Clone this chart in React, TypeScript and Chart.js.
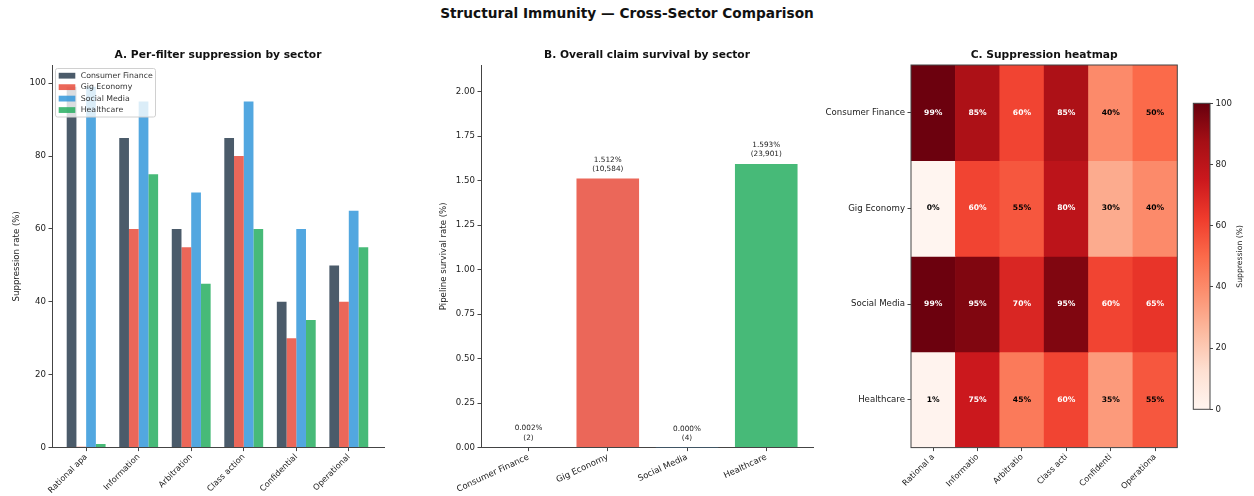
import { useEffect, useRef } from "react";
import { Chart, registerables } from "chart.js";

Chart.register(...registerables);

const FONT = "'DejaVu Sans', 'Liberation Sans', sans-serif";
Chart.defaults.font.family = FONT;

// ---- data ----
const sectors = ["Consumer Finance", "Gig Economy", "Social Media", "Healthcare"];
const filterTicks = ["Rational apa", "Information", "Arbitration", "Class action", "Confidential", "Operational"];
const filterTicksShort = ["Rational a", "Informatio", "Arbitratio", "Class acti", "Confidenti", "Operationa"];

// suppression rate (%) per filter, one list per sector
const consumerFinance = [99, 85, 60, 85, 40, 50];
const gigEconomy = [0.2, 60, 55, 80, 30, 40];
const socialMedia = [99, 95, 70, 95, 60, 65];
const healthcare = [1, 75, 45, 60, 35, 55];
const suppression = [consumerFinance, gigEconomy, socialMedia, healthcare];

// overall pipeline survival
const survivalRate = [0.002, 1.512, 0.0003, 1.593];
const survivingClaims = [2, 10584, 4, 23901];

const sectorColors = ["#2c3e50", "#e74c3c", "#3498db", "#27ae60"];
const suppressionTicks = [0, 20, 40, 60, 80, 100];
const survivalTicks = [0, 0.25, 0.5, 0.75, 1.0, 1.25, 1.5, 1.75, 2.0];
const colorbarTicks = [0, 20, 40, 60, 80, 100];

// ---- helpers ----
const TEXT = "#222";
const SPINE = "#444";

function hexToRgb(h: string) {
  const n = parseInt(h.slice(1), 16);
  return [(n >> 16) & 255, (n >> 8) & 255, n & 255];
}
function withAlpha(h: string, a: number) {
  const [r, g, b] = hexToRgb(h);
  return `rgba(${r},${g},${b},${a})`;
}

// matplotlib "Reds" colormap (ColorBrewer 9-class anchors)
const REDS = ["#fff5f0", "#fee0d2", "#fcbba1", "#fc9272", "#fb6a4a", "#ef3b2c", "#cb181d", "#a50f15", "#67000d"];
function reds(t: number) {
  const c = Math.max(0, Math.min(1, t));
  const p = c * 8;
  const i = Math.min(7, Math.floor(p));
  const f = p - i;
  const a = hexToRgb(REDS[i]);
  const b = hexToRgb(REDS[i + 1]);
  const m = a.map((v, k) => Math.round(v + (b[k] - v) * f));
  return `rgb(${m[0]},${m[1]},${m[2]})`;
}

const TITLE_SIZE = 10.7;
const titleOpts = (text: string) => ({
  display: true,
  text,
  fullSize: false,
  color: "#111",
  font: { size: TITLE_SIZE, weight: "bold" as const, family: FONT },
  padding: { top: 55.6 - TITLE_SIZE * 0.6, bottom: 65 - 55.6 - TITLE_SIZE * 0.6 },
});

// legend drawn inside the plotting area (upper left)
const insideLegend = {
  id: "insideLegend",
  afterDatasetsDraw(chart: any) {
    const { ctx, chartArea } = chart;
    const x0 = chartArea.left + 3.5;
    const y0 = chartArea.top + 3.5;
    const w = 100;
    const h = 48.5;
    ctx.save();
    ctx.beginPath();
    ctx.roundRect(x0, y0, w, h, 2);
    ctx.fillStyle = "rgba(255,255,255,0.8)";
    ctx.fill();
    ctx.strokeStyle = "#d0d0d0";
    ctx.lineWidth = 1;
    ctx.stroke();
    ctx.font = `7.8px ${FONT}`;
    ctx.textBaseline = "middle";
    ctx.textAlign = "left";
    chart.data.datasets.forEach((ds: any, i: number) => {
      const cy = y0 + 7.2 + i * 11.45;
      ctx.fillStyle = ds.backgroundColor;
      ctx.fillRect(x0 + 3.2, cy - 2.9, 16.6, 5.8);
      ctx.fillStyle = "#333";
      ctx.fillText(ds.label, x0 + 25.2, cy);
    });
    ctx.restore();
  },
};

// value labels above the survival bars
const survivalLabels = {
  id: "survivalLabels",
  afterDatasetsDraw(chart: any) {
    const { ctx } = chart;
    const meta = chart.getDatasetMeta(0);
    ctx.save();
    ctx.font = `7.3px ${FONT}`;
    ctx.fillStyle = TEXT;
    ctx.textAlign = "center";
    ctx.textBaseline = "middle";
    meta.data.forEach((bar: any, i: number) => {
      ctx.fillText(survivalRate[i].toFixed(3) + "%", bar.x, bar.y - 18.8);
      ctx.fillText("(" + survivingClaims[i].toLocaleString("en-US") + ")", bar.x, bar.y - 9.6);
    });
    ctx.restore();
  },
};

// percentage text in each heatmap cell + outer frame
const heatAnnotations = {
  id: "heatAnnotations",
  afterDatasetsDraw(chart: any) {
    const { ctx, chartArea, scales } = chart;
    ctx.save();
    ctx.font = `bold 7.6px ${FONT}`;
    ctx.textAlign = "center";
    ctx.textBaseline = "middle";
    suppression.forEach((row, r) => {
      row.forEach((v, c) => {
        const x = scales.x.getPixelForValue(c);
        const y = scales.y.getPixelForValue(r + 0.5);
        ctx.fillStyle = v > 55 ? "#ffffff" : "#000000";
        ctx.fillText(`${Math.round(v)}%`, x, y);
      });
    });
    ctx.strokeStyle = SPINE;
    ctx.lineWidth = 1;
    ctx.strokeRect(chartArea.left, chartArea.top, chartArea.right - chartArea.left, chartArea.bottom - chartArea.top);
    ctx.restore();
  },
};

// colorbar frame and rotated label
const colorbarDecor = {
  id: "colorbarDecor",
  afterDatasetsDraw(chart: any) {
    const { ctx, chartArea } = chart;
    ctx.save();
    ctx.strokeStyle = SPINE;
    ctx.lineWidth = 1;
    ctx.strokeRect(chartArea.left, chartArea.top, chartArea.right - chartArea.left, chartArea.bottom - chartArea.top);
    ctx.translate(60, (chartArea.top + chartArea.bottom) / 2);
    ctx.rotate(-Math.PI / 2);
    ctx.font = `7.7px ${FONT}`;
    ctx.fillStyle = TEXT;
    ctx.textAlign = "center";
    ctx.textBaseline = "middle";
    ctx.fillText("Suppression (%)", 0, 0);
    ctx.restore();
  },
};

const tickFont = { size: 8.6, family: FONT };
const rotFont = { size: 8.2, family: FONT };
const axisGrid = { drawOnChartArea: false, tickLength: 3.5, color: SPINE, offset: false };
const axisBorder = { color: SPINE, width: 1 };

export default function App() {
  const aRef = useRef<HTMLCanvasElement>(null);
  const bRef = useRef<HTMLCanvasElement>(null);
  const cRef = useRef<HTMLCanvasElement>(null);
  const dRef = useRef<HTMLCanvasElement>(null);

  useEffect(() => {
    const charts: Chart[] = [];

    // A. grouped bars per filter
    charts.push(
      new Chart(aRef.current!, {
        type: "bar",
        data: {
          datasets: sectors.map((s, k) => ({
            label: s,
            data: suppression[k].map((v, i) => ({ x: i, y: v })),
            backgroundColor: withAlpha(sectorColors[k], 0.85),
            borderWidth: 0,
            categoryPercentage: 0.74,
            barPercentage: 1,
          })),
        },
        options: {
          responsive: false,
          animation: false,
          layout: { padding: { left: 0, right: 16, top: 0, bottom: 0 } },
          plugins: { legend: { display: false }, tooltip: { enabled: false }, title: titleOpts("A. Per-filter suppression by sector") },
          scales: {
            x: {
              type: "linear",
              min: -0.65,
              max: 5.67,
              offset: false,
              afterBuildTicks: (s: any) => {
                s.ticks = filterTicks.map((_, i) => ({ value: i }));
              },
              afterFit: (s: any) => {
                s.height = 48.4;
              },
              ticks: {
                callback: (v: any) => filterTicks[Math.round(Number(v))] ?? "",
                minRotation: 45,
                maxRotation: 45,
                autoSkip: false,
                padding: 1,
                color: TEXT,
                font: rotFont,
              },
              grid: axisGrid,
              border: axisBorder,
            },
            y: {
              min: 0,
              max: 105,
              afterBuildTicks: (s: any) => {
                s.ticks = suppressionTicks.map((v) => ({ value: v }));
              },
              afterFit: (s: any) => {
                s.width = 52;
              },
              ticks: { color: TEXT, font: tickFont, padding: 2.5 },
              grid: axisGrid,
              border: axisBorder,
              title: { display: true, text: "Suppression rate (%)", color: TEXT, font: tickFont, padding: { top: 12, bottom: 0 } },
            },
          },
        },
        plugins: [insideLegend],
      } as any)
    );

    // B. overall survival per sector
    charts.push(
      new Chart(bRef.current!, {
        type: "bar",
        data: {
          datasets: [
            {
              label: "Survival",
              data: survivalRate.map((v, i) => ({ x: i, y: v })),
              backgroundColor: sectorColors.map((c) => withAlpha(c, 0.85)),
              borderWidth: 0,
              categoryPercentage: 0.79,
              barPercentage: 1,
            },
          ],
        },
        options: {
          responsive: false,
          animation: false,
          layout: { padding: { left: 0, right: 17, top: 0, bottom: 0 } },
          plugins: { legend: { display: false }, tooltip: { enabled: false }, title: titleOpts("B. Overall claim survival by sector") },
          scales: {
            x: {
              type: "linear",
              min: -0.6,
              max: 3.59,
              offset: false,
              afterBuildTicks: (s: any) => {
                s.ticks = sectors.map((_, i) => ({ value: i }));
              },
              afterFit: (s: any) => {
                s.height = 48.4;
              },
              ticks: {
                callback: (v: any) => sectors[Math.round(Number(v))] ?? "",
                minRotation: 25,
                maxRotation: 25,
                autoSkip: false,
                padding: 1,
                color: TEXT,
                font: { size: 8.5, family: FONT },
              },
              grid: axisGrid,
              border: axisBorder,
            },
            y: {
              min: 0,
              max: 2.15,
              afterBuildTicks: (s: any) => {
                s.ticks = survivalTicks.map((v) => ({ value: v }));
              },
              afterFit: (s: any) => {
                s.width = 61;
              },
              ticks: { color: TEXT, font: tickFont, padding: 2.5, callback: (v: any) => Number(v).toFixed(2) },
              grid: axisGrid,
              border: axisBorder,
              title: { display: true, text: "Pipeline survival rate (%)", color: TEXT, font: tickFont, padding: { top: 19, bottom: 0 } },
            },
          },
        },
        plugins: [survivalLabels],
      } as any)
    );

    // C. heatmap: one stacked row of unit cells per sector, coloured by suppression
    charts.push(
      new Chart(cRef.current!, {
        type: "bar",
        data: {
          labels: filterTicksShort,
          datasets: sectors.map((s, r) => ({
            label: s,
            data: filterTicksShort.map(() => 1),
            backgroundColor: suppression[r].map((v) => reds(v / 100)),
            borderWidth: 0,
            categoryPercentage: 1,
            barPercentage: 1,
          })),
        },
        options: {
          responsive: false,
          animation: false,
          layout: { padding: { left: 0, right: 2.7, top: 0, bottom: 0 } },
          plugins: { legend: { display: false }, tooltip: { enabled: false }, title: titleOpts("C. Suppression heatmap") },
          scales: {
            x: {
              stacked: true,
              afterFit: (s: any) => {
                s.height = 48.4;
              },
              ticks: { minRotation: 45, maxRotation: 45, autoSkip: false, padding: 1, color: TEXT, font: rotFont },
              grid: axisGrid,
              border: { display: false },
            },
            y: {
              stacked: true,
              min: 0,
              max: 4,
              reverse: true,
              afterBuildTicks: (s: any) => {
                s.ticks = sectors.map((_, i) => ({ value: i + 0.5 }));
              },
              afterFit: (s: any) => {
                s.width = 91;
              },
              ticks: { callback: (v: any) => sectors[Math.floor(Number(v))] ?? "", color: TEXT, font: tickFont, padding: 2.5 },
              grid: axisGrid,
              border: { display: false },
            },
          },
        },
        plugins: [heatAnnotations],
      } as any)
    );

    // colorbar for the heatmap
    charts.push(
      new Chart(dRef.current!, {
        type: "bar",
        data: {
          labels: ["scale"],
          datasets: [
            {
              data: [[0, 100]],
              backgroundColor: (c: any) => {
                const chart = c.chart;
                const y = chart.scales?.y;
                if (!y || !chart.chartArea) return reds(0.5);
                const g = chart.ctx.createLinearGradient(0, y.getPixelForValue(0), 0, y.getPixelForValue(100));
                REDS.forEach((col, i) => g.addColorStop(i / (REDS.length - 1), col));
                return g;
              },
              borderWidth: 0,
              categoryPercentage: 1,
              barPercentage: 1,
            },
          ],
        },
        options: {
          responsive: false,
          animation: false,
          layout: { padding: { left: 13.3, right: 0, top: 103.3, bottom: 86.7 } },
          plugins: { legend: { display: false }, tooltip: { enabled: false }, title: { display: false } },
          scales: {
            x: { display: false },
            y: {
              position: "right",
              min: 0,
              max: 100,
              afterBuildTicks: (s: any) => {
                s.ticks = colorbarTicks.map((v) => ({ value: v }));
              },
              afterFit: (s: any) => {
                s.width = 44;
              },
              ticks: { color: TEXT, font: tickFont, padding: 2.5 },
              grid: { drawOnChartArea: false, tickLength: 3, color: SPINE },
              border: { display: false },
            },
          },
        },
        plugins: [colorbarDecor],
      } as any)
    );

    return () => charts.forEach((c) => c.destroy());
  }, []);

  const abs = { position: "absolute" as const, top: 0, display: "block" };

  return (
    <div style={{ position: "fixed", left: 0, top: 0, width: 1254, height: 496, background: "#ffffff", fontFamily: FONT }}>
      <div
        style={{
          position: "absolute",
          left: 0,
          top: 4,
          width: 1254,
          textAlign: "center",
          fontSize: 13.7,
          fontWeight: "bold",
          lineHeight: "18px",
          color: "#111",
        }}
      >
        Structural Immunity — Cross-Sector Comparison
      </div>
      <canvas ref={aRef} width={400} height={496} style={{ ...abs, left: 0 }} />
      <canvas ref={bRef} width={410} height={496} style={{ ...abs, left: 420 }} />
      <canvas ref={cRef} width={360} height={496} style={{ ...abs, left: 820 }} />
      <canvas ref={dRef} width={74} height={496} style={{ ...abs, left: 1180 }} />
    </div>
  );
}
